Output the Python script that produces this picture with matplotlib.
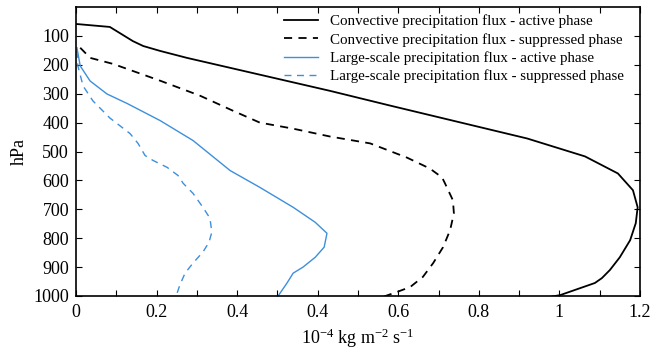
import matplotlib
matplotlib.use("Agg")
import matplotlib.pyplot as plt
import numpy as np

plt.rcParams['font.family'] = ['Liberation Serif', 'DejaVu Serif']
plt.rcParams['mathtext.fontset'] = 'custom'
plt.rcParams['mathtext.rm'] = 'Liberation Serif'
plt.rcParams['mathtext.it'] = 'Liberation Serif:italic'

# Convective precipitation flux - active phase
conv_act_x = [0.002, 0.072, 0.121, 0.143, 0.179, 0.236, 0.540, 0.668, 0.960, 1.083, 1.153,
              1.185, 1.195, 1.191, 1.179, 1.157, 1.136, 1.119, 1.104, 1.030, 1.009]
conv_act_p = [59, 69, 118, 135, 152, 176, 290, 341, 455, 517, 576,
              634, 693, 748, 807, 866, 910, 938, 955, 997, 1003]

# Convective precipitation flux - suppressed phase
conv_sup_x = [0.009, 0.030, 0.079, 0.179, 0.264, 0.334, 0.391, 0.462, 0.540, 0.626, 0.704,
              0.753, 0.779, 0.785, 0.802, 0.804, 0.796, 0.781, 0.760, 0.738, 0.711, 0.683, 0.653]
conv_sup_p = [141, 176, 197, 255, 307, 359, 400, 421, 448, 472, 521,
              559, 590, 610, 669, 714, 772, 831, 886, 934, 969, 986, 1003]

# Large-scale precipitation flux - active phase
ls_act_x = [0.002, 0.009, 0.030, 0.066, 0.109, 0.179, 0.249, 0.328, 0.391, 0.462, 0.509,
            0.534, 0.528, 0.509, 0.483, 0.462, 0.449, 0.430]
ls_act_p = [141, 204, 256, 301, 334, 393, 462, 566, 624, 693, 745,
            783, 831, 866, 900, 921, 955, 1000]

# Large-scale precipitation flux - suppressed phase
ls_sup_x = [0.002, 0.004, 0.015, 0.036, 0.072, 0.115, 0.132, 0.147, 0.164, 0.194, 0.217,
            0.228, 0.249, 0.270, 0.285, 0.289, 0.283, 0.270, 0.249, 0.232, 0.221, 0.213]
ls_sup_p = [152, 204, 273, 325, 384, 438, 472, 514, 531, 555, 583,
            610, 645, 693, 731, 779, 814, 848, 886, 921, 962, 1000]

x_tick_labels = ['0', '0.2', '0.4', '0.4', '0.6', '0.8', '1', '1.2']
y_ticks = [100, 200, 300, 400, 500, 600, 700, 800, 900, 1000]
labels = ['Convective precipitation flux - active phase',
          'Convective precipitation flux - suppressed phase',
          'Large-scale precipitation flux - active phase',
          'Large-scale precipitation flux - suppressed phase']

blue = '#3d8fdc'

fig = plt.figure(figsize=(6.6, 3.52), dpi=100)
ax = fig.add_axes([76/660, 1-296/352, (640-76)/660, (296-7)/352])

ax.plot(conv_act_x, conv_act_p, color='black', lw=1.3, label=labels[0])
ax.plot(conv_sup_x, conv_sup_p, color='black', lw=1.3, ls=(0, (4.5, 3.5)), label=labels[1])
ax.plot(ls_act_x, ls_act_p, color=blue, lw=1.0, label=labels[2])
ax.plot(ls_sup_x, ls_sup_p, color=blue, lw=1.0, ls=(0, (5, 4)), label=labels[3])

ax.set_xlim(0, 1.2)
ax.set_ylim(1000, 0)
xt = [i * 1.2 / 7 for i in range(8)]
ax.set_xticks(xt, labels=x_tick_labels)
ax.set_xticks([(i + 0.5) * 1.2 / 7 for i in range(7)], minor=True)
ax.set_yticks(y_ticks)
ax.tick_params(which='both', direction='in', top=True, right=True, length=4, width=0.8,
               labelsize=13, pad=5)
ax.tick_params(axis='x', pad=6)
for s in ax.spines.values():
    s.set_linewidth(1.2)

ax.set_ylabel('hPa', fontsize=13, labelpad=4)
ax.set_xlabel(r'$10^{-4}$ kg m$^{-2}$ s$^{-1}$', fontsize=13, labelpad=4)

leg = ax.legend(loc='upper right', frameon=False, fontsize=10.8, handlelength=2.3,
                handletextpad=0.8, labelspacing=0.3, borderaxespad=0.1,
                bbox_to_anchor=(0.985, 1.0))

fig.savefig('out.png', dpi=100)
